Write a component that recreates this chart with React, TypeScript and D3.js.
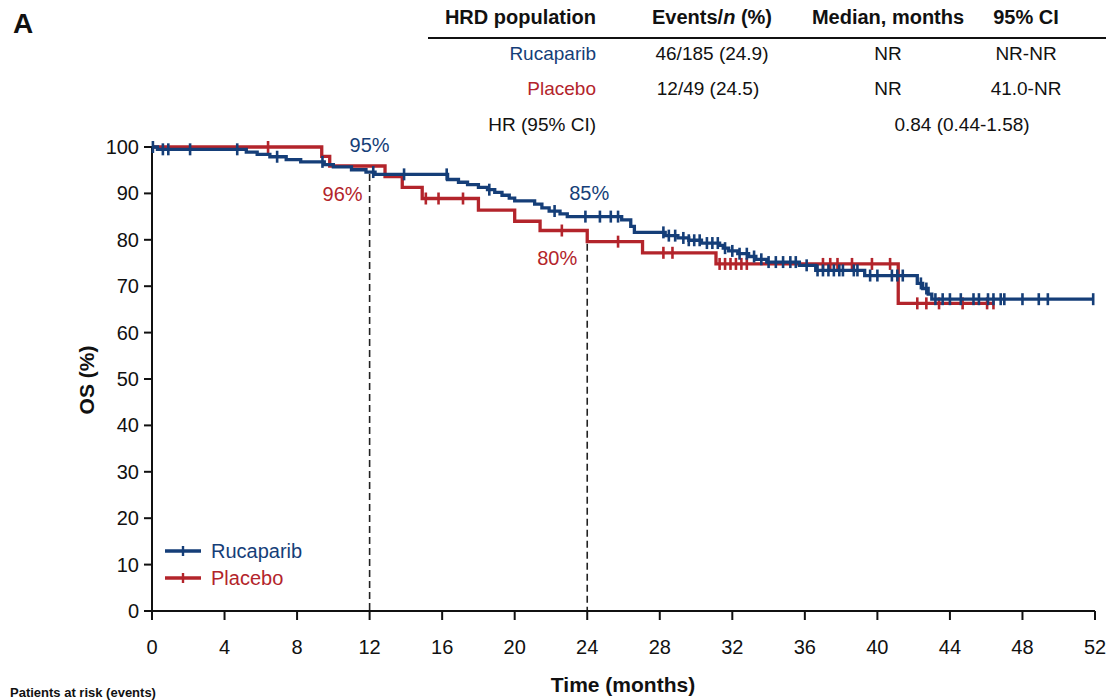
import React from "react";
import * as d3 from "d3";

// Kaplan–Meier step points [months, OS %] and censor times (months)
const rucaparibSteps: [number, number][] = [
  [0, 100], [0.3, 99.5], [5.2, 98.9], [5.8, 98.4], [6.5, 97.9], [7.4, 97.3], [8.2, 96.8],
  [9.5, 96.2], [10.0, 95.7], [11.0, 95.1], [11.8, 94.6], [12.3, 94.1], [16.3, 93.0],
  [16.9, 92.4], [17.4, 91.9], [18.0, 91.3], [18.5, 90.8], [18.9, 90.2], [19.3, 89.6],
  [19.7, 89.0], [20.0, 88.4], [21.1, 87.7], [21.5, 86.9], [21.9, 86.2], [22.5, 85.6],
  [22.9, 85.0], [25.9, 84.3], [26.4, 82.9], [26.6, 81.6], [28.3, 80.9], [29.0, 80.4],
  [29.6, 79.9], [30.3, 79.3], [31.3, 78.8], [31.5, 78.2], [31.8, 77.6], [32.3, 77.0],
  [32.9, 76.4], [33.3, 75.8], [33.9, 75.2], [35.7, 74.5], [36.6, 73.4], [39.3, 72.3],
  [42.2, 70.6], [42.5, 69.5], [42.8, 68.3], [43.0, 67.2], [51.9, 67.2],
];
const rucaparibCensor: number[] = [
  0.05, 0.6, 0.9, 2.1, 4.7, 6.9, 9.4, 12.2, 13.9, 16.25, 18.6, 22.2, 23.9, 24.7, 25.3, 25.7,
  28.2, 28.5, 28.85, 29.3, 29.6, 29.9, 30.2, 30.6, 30.9, 31.2, 31.6, 32.0, 32.4, 32.8, 33.2,
  33.6, 34.0, 34.4, 34.8, 35.2, 35.5, 36.1, 36.7, 37.0, 37.3, 37.6, 37.9, 38.1, 38.7, 38.9,
  39.6, 40.0, 40.8, 41.1, 41.4, 42.4, 42.7, 43.2, 43.6, 44.0, 44.6, 45.3, 45.6, 46.1, 46.4,
  46.8, 47.0, 48.0, 48.9, 49.4, 51.9,
];
const placeboSteps: [number, number][] = [
  [0, 100], [9.36, 97.96], [9.8, 95.9], [12.85, 93.6], [13.8, 91.3], [14.9, 88.9],
  [18.0, 86.4], [20.0, 84.0], [21.4, 82.0], [24.0, 79.6], [27.05, 77.2], [31.1, 74.8],
  [41.15, 66.3], [46.4, 66.3],
];
const placeboCensor: number[] = [
  6.4, 15.1, 15.8, 17.15, 22.6, 25.7, 28.2, 28.7, 31.3, 31.6, 31.9, 32.2, 32.5, 32.8,
  37.0, 37.4, 37.8, 38.6, 39.7, 40.7, 42.2, 42.7, 43.4, 44.7, 46.05, 46.4,
];

const xTicks = [0, 4, 8, 12, 16, 20, 24, 28, 32, 36, 40, 44, 48, 52];
const yTicks = [0, 10, 20, 30, 40, 50, 60, 70, 80, 90, 100];

// Landmark survival estimates
const landmarks = [
  { t: 12, ruc: "95%", pla: "96%" },
  { t: 24, ruc: "85%", pla: "80%" },
];

// Summary table
const tableHeader = ["HRD population", "Events/n (%)", "Median, months", "95% CI"];
const rucaparibRow = ["Rucaparib", "46/185 (24.9)", "NR", "NR-NR"];
const placeboRow = ["Placebo", "12/49 (24.5)", "NR", "41.0-NR"];
const hrRow = ["HR (95% CI)", "0.84 (0.44-1.58)"];

const BLUE = "#153e78";
const RED = "#b3242b";
const FONT = "'Liberation Sans', Arial, Helvetica, sans-serif";

const x = d3.scaleLinear().domain([0, 52]).range([152, 1095]);
const y = d3.scaleLinear().domain([0, 100]).range([611, 147]);

const stepLine = d3
  .line<[number, number]>()
  .x((d) => x(d[0]))
  .y((d) => y(d[1]))
  .curve(d3.curveStepAfter);

function survivalAt(steps: [number, number][], t: number): number {
  let v = steps[0][1];
  for (const s of steps) {
    if (s[0] <= t) v = s[1];
    else break;
  }
  return v;
}

function Curve({ steps, censor, color }: { steps: [number, number][]; censor: number[]; color: string }) {
  return (
    <g>
      <path d={stepLine(steps) || ""} fill="none" stroke={color} strokeWidth={3.3} />
      {censor.map((t, i) => {
        const cy = y(survivalAt(steps, t));
        return <line key={i} x1={x(t)} x2={x(t)} y1={cy - 6} y2={cy + 6} stroke={color} strokeWidth={2.6} />;
      })}
    </g>
  );
}

export default function App() {
  const colX = [596, 712, 888, 1026];
  return (
    <div style={{ position: "absolute", left: 0, top: 0 }}>
      <svg width={1120} height={700} style={{ display: "block", background: "#fff" }} fontFamily={FONT}>
        <rect width={1120} height={700} fill="#fff" />
        <text x={13} y={33} fontSize={28} fontWeight="bold" fill="#111">A</text>

        {/* summary table */}
        <g fontSize={19} fill="#111">
          <g fontSize={20} fontWeight="bold">
            <text x={colX[0]} y={24} textAnchor="end">{tableHeader[0]}</text>
            <text x={colX[1]} y={24} textAnchor="middle">
              Events/<tspan fontStyle="italic">n</tspan> (%)
            </text>
            <text x={colX[2]} y={24} textAnchor="middle">{tableHeader[2]}</text>
            <text x={colX[3]} y={24} textAnchor="middle">{tableHeader[3]}</text>
          </g>
          <line x1={428} x2={1106} y1={38} y2={38} stroke="#111" strokeWidth={2} />
          <text x={colX[0]} y={60} textAnchor="end" fill={BLUE}>{rucaparibRow[0]}</text>
          <text x={colX[1]} y={60} textAnchor="middle">{rucaparibRow[1]}</text>
          <text x={colX[2]} y={60} textAnchor="middle">{rucaparibRow[2]}</text>
          <text x={colX[3]} y={60} textAnchor="middle">{rucaparibRow[3]}</text>
          <text x={colX[0]} y={95} textAnchor="end" fill={RED}>{placeboRow[0]}</text>
          <text x={colX[1] - 4} y={95} textAnchor="middle">{placeboRow[1]}</text>
          <text x={colX[2]} y={95} textAnchor="middle">{placeboRow[2]}</text>
          <text x={colX[3]} y={95} textAnchor="middle">{placeboRow[3]}</text>
          <text x={colX[0]} y={131} textAnchor="end">{hrRow[0]}</text>
          <text x={962} y={131} textAnchor="middle">{hrRow[1]}</text>
        </g>

        {/* landmark dashed lines */}
        {landmarks.map((l) => {
          const low = Math.min(survivalAt(rucaparibSteps, l.t), survivalAt(placeboSteps, l.t));
          return (
            <line key={l.t} x1={x(l.t)} x2={x(l.t)} y1={y(low) + 2} y2={y(0)} stroke="#222" strokeWidth={1.6} strokeDasharray="7 4" />
          );
        })}

        {/* axes */}
        <g stroke="#111" strokeWidth={2}>
          <line x1={x(0)} x2={x(0)} y1={y(100)} y2={y(0)} />
          <line x1={x(0)} x2={x(52)} y1={y(0)} y2={y(0)} />
          {yTicks.map((t) => (
            <line key={"yt" + t} x1={x(0) - 8} x2={x(0)} y1={y(t)} y2={y(t)} />
          ))}
          {xTicks.map((t) => (
            <line key={"xt" + t} x1={x(t)} x2={x(t)} y1={y(0)} y2={y(0) + 9} />
          ))}
        </g>
        <g fontSize={20} fill="#111">
          {yTicks.map((t) => (
            <text key={"yl" + t} x={x(0) - 13} y={y(t) + 7} textAnchor="end">{t}</text>
          ))}
          {xTicks.map((t) => (
            <text key={"xl" + t} x={x(t)} y={654} textAnchor="middle">{t}</text>
          ))}
        </g>
        <text x={623} y={692} textAnchor="middle" fontSize={21} fontWeight="bold" fill="#111">Time (months)</text>
        <text transform="translate(94,380) rotate(-90)" textAnchor="middle" fontSize={21} fontWeight="bold" fill="#111">OS (%)</text>

        {/* survival curves */}
        <Curve steps={placeboSteps} censor={placeboCensor} color={RED} />
        <Curve steps={rucaparibSteps} censor={rucaparibCensor} color={BLUE} />

        {/* landmark labels */}
        <g fontSize={20}>
          <text x={x(12)} y={152} textAnchor="middle" fill={BLUE}>{landmarks[0].ruc}</text>
          <text x={x(12) - 27} y={201} textAnchor="middle" fill={RED}>{landmarks[0].pla}</text>
          <text x={x(24) + 2} y={200} textAnchor="middle" fill={BLUE}>{landmarks[1].ruc}</text>
          <text x={x(24) - 30} y={265} textAnchor="middle" fill={RED}>{landmarks[1].pla}</text>
        </g>

        {/* legend */}
        <g>
          <line x1={165} x2={201} y1={551} y2={551} stroke={BLUE} strokeWidth={3.3} />
          <line x1={183} x2={183} y1={546} y2={556} stroke={BLUE} strokeWidth={2.4} />
          <text x={211} y={558} fontSize={20} fill={BLUE}>Rucaparib</text>
          <line x1={165} x2={201} y1={578} y2={578} stroke={RED} strokeWidth={3.3} />
          <line x1={183} x2={183} y1={573} y2={583} stroke={RED} strokeWidth={2.4} />
          <text x={211} y={585} fontSize={20} fill={RED}>Placebo</text>
        </g>

        <text x={10} y={697} fontSize={13} fontWeight="bold" fill="#111">Patients at risk (events)</text>
      </svg>
    </div>
  );
}
